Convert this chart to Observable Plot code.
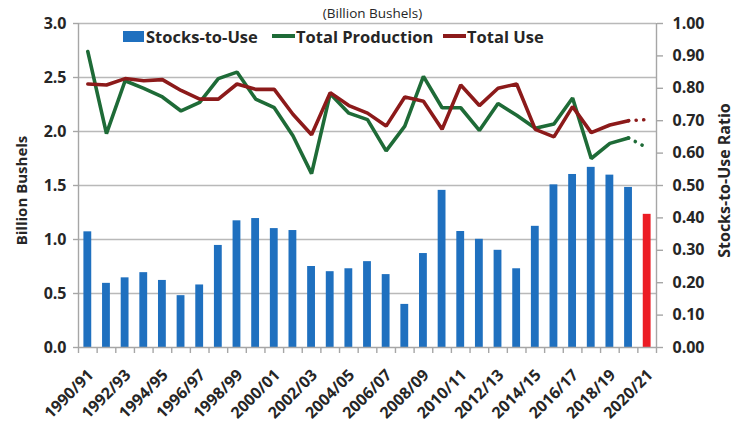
<!DOCTYPE html>
<html>
<head>
<meta charset="utf-8">
<script src="https://cdn.jsdelivr.net/npm/d3@7"></script>
<script src="https://cdn.jsdelivr.net/npm/@observablehq/plot@0.6"></script>
<style>
  html, body { margin: 0; padding: 0; background: #fff; }
  #wrap { position: relative; width: 745px; height: 424px; font-family: "Open Sans", sans-serif; color: #262626; }
  #wrap svg { position: absolute; left: 0; top: 0; }
  .ov { position: absolute; white-space: nowrap; }
  #unit { left: 0; width: 745px; top: 4px; text-align: center; font-size: 13.5px; padding-left: 0; }
  .leg { position: absolute; top: 26px; font-size: 16.5px; font-weight: bold; display: flex; align-items: center; height: 20px; }
  .sw-box { display: inline-block; width: 21px; height: 11px; margin-right: 2px; }
  .sw-line { display: inline-block; width: 23px; height: 4px; margin-right: 1px; }
</style>
</head>
<body>
<div id="wrap">
  <div class="ov" id="unit">(Billion Bushels)</div>
  <div class="leg" style="left:123px"><span class="sw-box" style="background:#1f70bf"></span>Stocks-to-Use</div>
  <div class="leg" style="left:272px"><span class="sw-line" style="background:#1e6b37"></span>Total Production</div>
  <div class="leg" style="left:443px"><span class="sw-line" style="background:#8c1a1a"></span>Total Use</div>
</div>
<script>
const years = ["1990/91","1991/92","1992/93","1993/94","1994/95","1995/96","1996/97","1997/98","1998/99","1999/00",
  "2000/01","2001/02","2002/03","2003/04","2004/05","2005/06","2006/07","2007/08","2008/09","2009/10",
  "2010/11","2011/12","2012/13","2013/14","2014/15","2015/16","2016/17","2017/18","2018/19","2019/20","2020/21"];
const stocksToUse = [0.357,0.198,0.215,0.231,0.207,0.160,0.193,0.315,0.391,0.398,
  0.367,0.361,0.250,0.234,0.243,0.265,0.225,0.133,0.290,0.485,
  0.358,0.334,0.300,0.243,0.374,0.502,0.534,0.556,0.532,0.494,0.411];
const totalProduction = [2.74,1.98,2.47,2.40,2.32,2.19,2.27,2.49,2.55,2.30,
  2.22,1.96,1.61,2.35,2.17,2.11,1.82,2.05,2.51,2.22,
  2.22,2.01,2.26,2.15,2.03,2.07,2.31,1.75,1.89,1.94,1.85];
const totalUse = [2.44,2.43,2.49,2.47,2.48,2.38,2.30,2.30,2.44,2.39,
  2.39,2.16,1.97,2.36,2.24,2.17,2.05,2.32,2.28,2.02,
  2.43,2.24,2.40,2.44,2.02,1.95,2.23,1.99,2.06,2.10,2.11];
const leftTicks = [0, 0.5, 1.0, 1.5, 2.0, 2.5, 3.0];
const rightTicks = [0, 0.1, 0.2, 0.3, 0.4, 0.5, 0.6, 0.7, 0.8, 0.9, 1.0];

const colors = {bar: "#1f70bf", projBar: "#ec1c24", prod: "#1e6b37", use: "#8c1a1a"};
const n = years.length;
const ratioToLeft = 3; // right axis 0..1 maps onto left axis 0..3
const rows = years.map((y, i) => ({i, year: y, stu: stocksToUse[i], prod: totalProduction[i], use: totalUse[i], proj: i === n - 1}));
const solid = rows.slice(0, n - 1);
const dotted = rows.slice(n - 2);
const half = 0.21;
const bounds = d3.range(n + 1).map(k => k - 0.5);
const labelIdx = d3.range(0, n, 2);
const font = {fontSize: 16, fontWeight: "bold", fill: "#262626"};

const chart = Plot.plot({
  width: 745,
  height: 424,
  marginLeft: 78,
  marginRight: 89,
  marginTop: 23,
  marginBottom: 77,
  style: {fontFamily: "Open Sans", background: "transparent", color: "#262626", overflow: "visible"},
  x: {type: "linear", domain: [-0.5, n - 0.5], axis: null},
  y: {domain: [0, 3], axis: null},
  marks: [
    Plot.ruleY(leftTicks.slice(1), {stroke: "#b9b9b9", strokeWidth: 1.4}),
    Plot.rectY(rows, {x1: d => d.i - half, x2: d => d.i + half, y1: 0, y2: d => d.stu * ratioToLeft,
      fill: d => d.proj ? colors.projBar : colors.bar}),
    Plot.ruleY([0], {stroke: "#a6a6a6", strokeWidth: 1.4}),
    Plot.ruleX([-0.5, n - 0.5], {stroke: "#a6a6a6", strokeWidth: 1.4}),
    Plot.line(solid, {x: "i", y: "prod", stroke: colors.prod, strokeWidth: 3.6, strokeLinejoin: "miter"}),
    Plot.line(dotted, {x: "i", y: "prod", stroke: colors.prod, strokeWidth: 3.6, strokeDasharray: "0.1 7.5", strokeLinecap: "round"}),
    Plot.line(solid, {x: "i", y: "use", stroke: colors.use, strokeWidth: 3.6, strokeLinejoin: "miter"}),
    Plot.line(dotted, {x: "i", y: "use", stroke: colors.use, strokeWidth: 3.6, strokeDasharray: "0.1 7.5", strokeLinecap: "round"}),
    Plot.axisY({anchor: "left", ticks: leftTicks, tickFormat: d => d.toFixed(1), tickSize: 5, tickPadding: 7,
      stroke: "#a6a6a6", strokeWidth: 1.4, ...font, label: null}),
    Plot.axisY({anchor: "right", ticks: rightTicks.map(r => r * ratioToLeft), tickFormat: d => (d / ratioToLeft).toFixed(2),
      tickSize: 6, tickPadding: 10, stroke: "#a6a6a6", strokeWidth: 1.4, ...font, label: null}),
    Plot.axisX({ticks: bounds, tickFormat: () => "", tickSize: 6, stroke: "#a6a6a6", strokeWidth: 1.4, label: null}),
    Plot.axisX({ticks: labelIdx, tickFormat: i => years[i], tickSize: 0, tickRotate: -45, textAnchor: "end",
      lineAnchor: "middle", tickPadding: 0, dx: 3, dy: 25, fontSize: 16, fontWeight: "bold", fill: "#262626", label: null}),
    Plot.text(["Billion Bushels"], {frameAnchor: "left", textAnchor: "middle", rotate: -90, dx: -56, dy: 5, fontSize: 15, fontWeight: "bold", fill: "#262626"}),
    Plot.text(["Stocks-to-Use Ratio"], {frameAnchor: "right", textAnchor: "middle", rotate: -90, dx: 68, dy: -5, fontSize: 16, fontWeight: "bold", fill: "#262626"})
  ]
});
document.getElementById("wrap").prepend(chart);
</script>
</body>
</html>
